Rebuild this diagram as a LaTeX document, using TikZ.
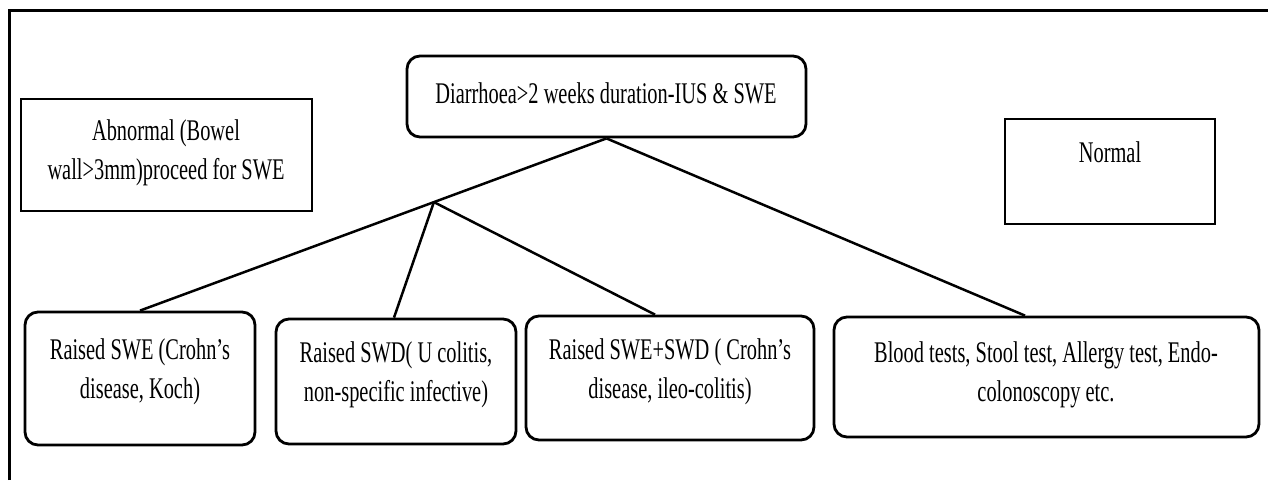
\documentclass[tikz,border=0pt]{standalone}
\usepackage{fontspec}
\setmainfont{Liberation Serif}[FakeStretch=0.68]
\usetikzlibrary{calc}
\begin{document}
\begin{tikzpicture}[x=1pt,y=-1pt,
  box/.style={draw, line width=2.8pt, inner sep=0pt},
  rbox/.style={box, rounded corners=13pt},
  txt/.style={align=center, font=\fontsize{30}{39}\selectfont, inner sep=0pt},
  link/.style={line width=2.5pt}]
\useasboundingbox (0,0) rectangle (1268,480);
% outer frame
\coordinate (fbl) at (9,480);
\coordinate (ftl) at (9,10);
\coordinate (ftr) at (1268,10);
\draw[line width=3pt] (fbl) -- (ftl) -- (ftr);
% boxes
\node[rbox, minimum width=399pt, minimum height=81pt] (top) at (606.5,96.5) {};
\node[box, minimum width=291pt, minimum height=112pt] (abn) at (166.5,155) {};
\node[box, minimum width=210pt, minimum height=105pt] (norm) at (1110,171.5) {};
\node[rbox, minimum width=230pt, minimum height=133pt] (b1) at (140,378.5) {};
\node[rbox, minimum width=240pt, minimum height=125pt] (b2) at (396,381.5) {};
\node[rbox, minimum width=288pt, minimum height=124pt] (b3) at (670,378) {};
\node[rbox, minimum width=425pt, minimum height=120pt] (b4) at (1046.5,377) {};
% texts
\node[txt] (ttop) at (606,93) {Diarrhoea>2 weeks duration-IUS \& SWE};
\node[txt] (tabn) at (166,153) {Abnormal (Bowel\\wall>3mm)proceed for SWE};
\node[txt] (tnorm) at (1110,152) {Normal};
\node[txt] (tb1) at (140,372) {Raised SWE (Crohn’s\\disease, Koch)};
\node[txt] (tb2) at (396,375) {Raised SWD( U colitis,\\non-specific infective)};
\node[txt] (tb3) at (670,372) {Raised SWE+SWD ( Crohn’s\\disease, ileo-colitis)};
\node[txt] (tb4) at (1046,375) {Blood tests, Stool test, Allergy test, Endo-\\colonoscopy etc.};
% connectors
\path (top.south) -- (b1.north) coordinate[pos=0.37] (j);
\draw[link] (top.south) -- (b1.north);
\draw[link] (j) -- ([xshift=-2pt]b2.north);
\draw[link] (j) -- ([xshift=-15pt]b3.north);
\draw[link] (top.south) -- ([xshift=-21.5pt]b4.north);
\end{tikzpicture}
\end{document}
